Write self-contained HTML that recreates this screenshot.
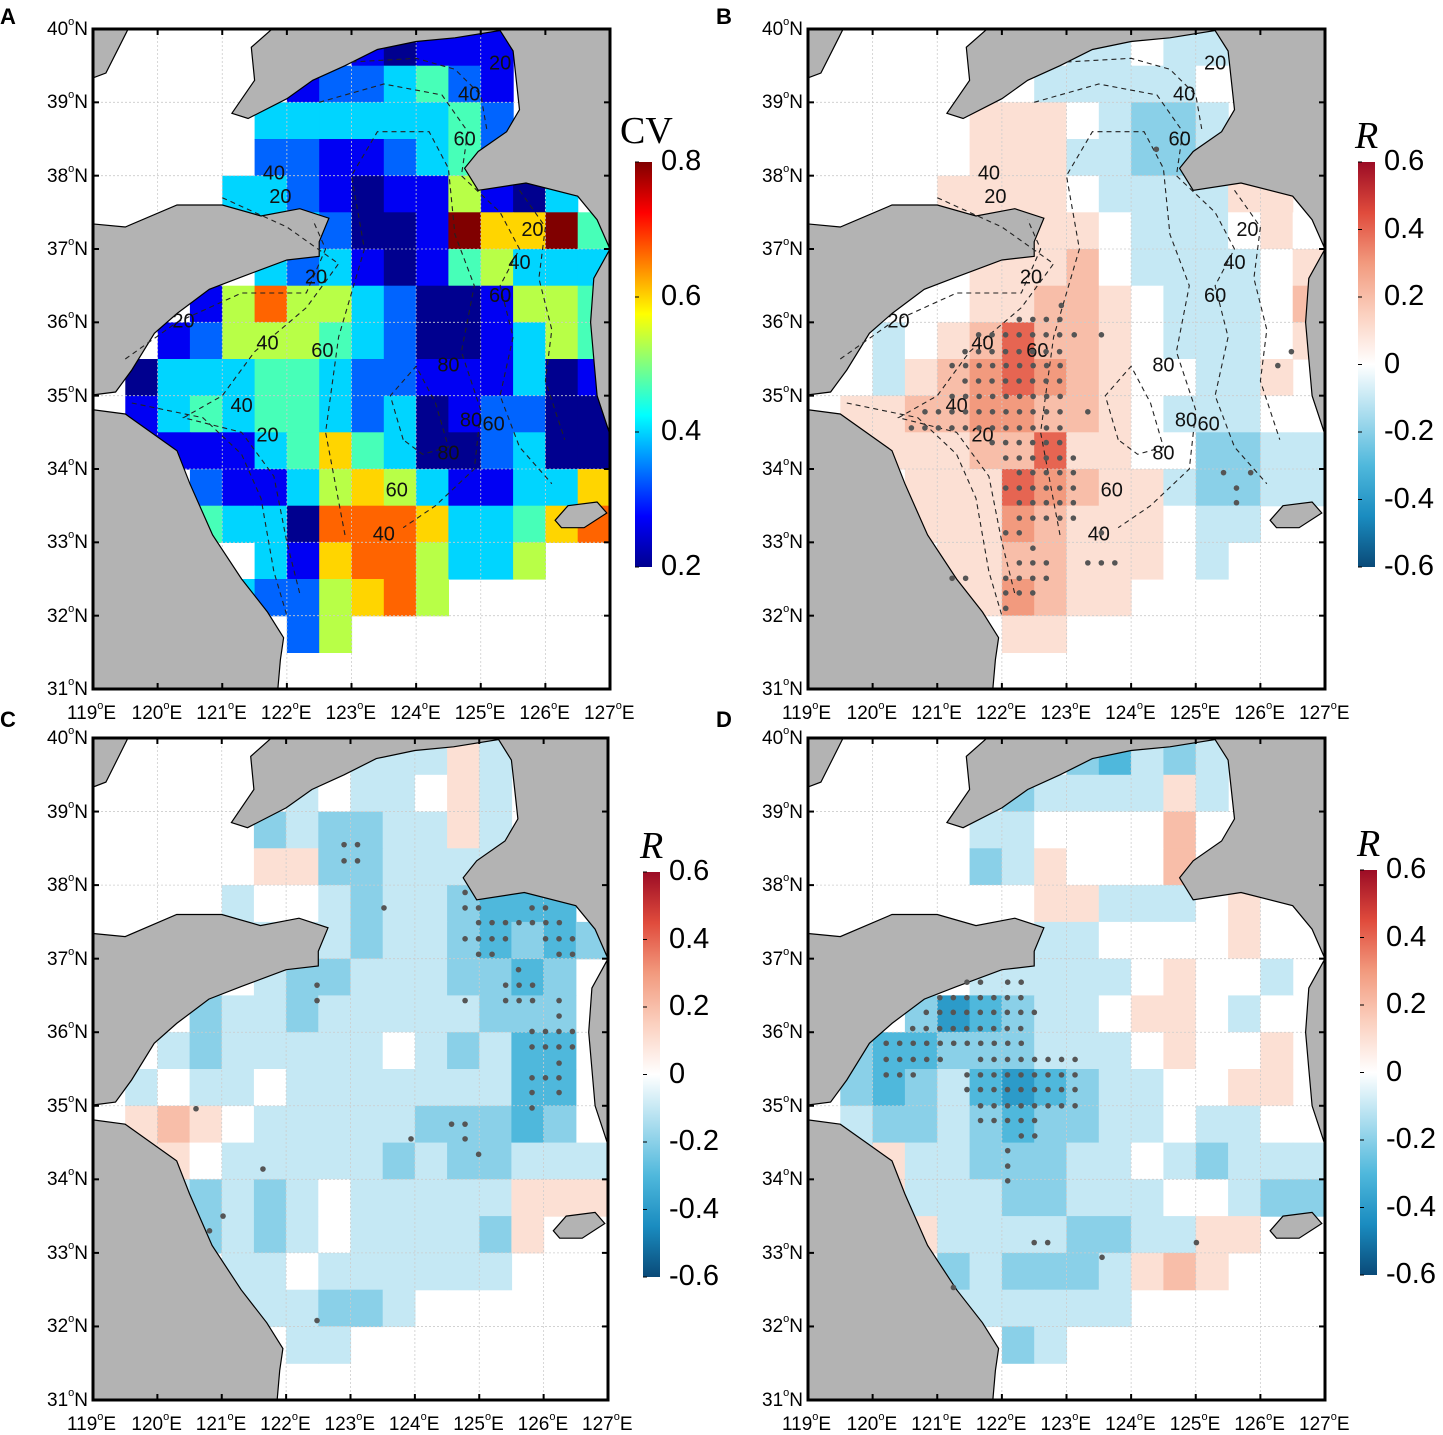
<!DOCTYPE html>
<html><head><meta charset="utf-8">
<style>
body{margin:0;background:#fff;width:1443px;height:1435px;overflow:hidden;position:relative;font-family:"Liberation Sans",Arial,sans-serif;}
.lbl{position:absolute;font-size:19px;color:#000;white-space:nowrap;line-height:1;}
.lbl sup{font-size:11px;vertical-align:top;position:relative;top:-3px;}
.plet{position:absolute;font-weight:bold;font-size:22px;}
.cbl{position:absolute;font-size:29px;line-height:1;}
.cbt{position:absolute;font-family:"Liberation Serif",serif;font-size:38px;line-height:1;}
svg{position:absolute;left:0;top:0;}
</style></head><body>
<svg id="main" width="1443" height="1435"></svg>
<div class="plet" style="left:0;top:4px">A</div>
<div class="plet" style="left:716px;top:4px">B</div>
<div class="plet" style="left:0;top:707px">C</div>
<div class="plet" style="left:716px;top:707px">D</div>
<script>
// ---------- data ----------
const latTicks=[40,39,38,37,36,35,34,33,32,31];
const lonTicks=[119,120,121,122,123,124,125,126,127];
const cvTicks=["0.8","0.6","0.4","0.2"];
const rTicks=["0.6","0.4","0.2","0","-0.2","-0.4","-0.6"];
// CV grid (0.5 deg), digit d -> 0.2 + d*0.6/9
const gridA=[
"........10111...",
"......1223421...",
".....33333342...",
".....22112342...",
"....33210115103.",
"....333200196694",
".....32310145333",
"...1575532001554",
"..12555432001354",
".033344322111301",
".134344323012200",
".111134643002300",
"...2113565311336",
"...4330777633467",
".....316775335..",
"....3225675.....",
"......25........",
"................"];
// R grids, letter a..m -> (idx-6)*0.1
const gridB=[
"........ffgff...",
"......gfffffg...",
".....hhhgfeef...",
".....hhhffeef...",
"....hhhhgffffhh.",
"....ghhhhgfffghg",
".....hhhigffffgh",
"...gghhiihgfffgi",
"..fghikiihgfffgh",
".gfhijkjihggffh.",
".hhiijjiihgfffg.",
".hhhhiikhhggeeff",
"...hhhkjihhfeeff",
"...hhhjihhhgff..",
"....hhiihhhgf...",
"....hhjihh......",
"......hh........",
"................"];
const gridC=[
"........fffhf...",
"......fgffghf...",
".....efeeffhf...",
".....hheeffff...",
"....fggfeffeddd.",
"....ffffeffedede",
".....feefffeede.",
"...effefffffeee.",
"..fefffffgfefdd.",
".fgffgfffffffdd.",
".hihgfffffeeede.",
".hhgfffffefeefff",
"..fefefgfffffhhh",
"...efefgffffeh..",
"....ffgffffff...",
"....fffeef......",
"......ff........",
"................"];
const gridD=[
"........edfef...",
"......effffhf...",
".....ffggggig...",
".....efhgggig...",
"....ggghhfffghg.",
"....gggffgggghgg",
".....fffffghggf.",
"...ecdeffghhgfg.",
".eddeeefffghggh.",
".edefdcdeffgghh.",
".feefedeeffgffg.",
".fhffeeeffgfefff",
"..hfffeefffggfee",
"...hffffeeffhh..",
"....efeeefhih...",
"....ffffff......",
"......ef........",
"................"];
// significant dots: [lat, lonStart, count] (step 0.209 deg)
const dotsB=[[36.23,122.92,1],[36.04,122.27,4],[35.83,121.64,7],[35.83,123.12,1],[35.83,123.54,1],[35.6,121.43,8],[35.41,121.23,9],[35.2,121.43,8],[34.99,121.23,9],[34.78,120.81,11],[34.78,123.33,1],[34.56,120.6,12],[34.36,121.85,6],[34.15,122.06,6],[33.95,122.27,5],[33.74,122.06,6],[33.54,122.27,5],[33.33,122.27,5],[33.13,122.06,2],[33.13,123.54,1],[32.92,122.48,1],[32.72,122.27,3],[32.72,123.33,3],[32.51,121.23,2],[32.51,122.06,4],[32.31,122.06,3],[32.1,122.06,1],[38.36,124.39,1],[35.6,126.48,1],[35.41,126.27,1],[33.95,125.43,1],[33.95,125.85,1],[33.74,125.63,1],[33.54,125.63,1]];
const dotsC=[[38.55,122.9,2],[38.33,122.9,2],[37.69,123.52,1],[37.9,124.78,1],[37.69,124.78,2],[37.69,125.82,2],[37.49,124.99,7],[37.27,124.78,4],[37.27,126.03,3],[37.06,124.99,2],[37.06,126.24,2],[36.85,125.61,1],[36.64,125.41,3],[36.64,122.48,1],[36.43,124.78,1],[36.43,125.41,3],[36.43,126.24,1],[36.43,122.48,1],[36.22,126.24,1],[36.01,125.82,4],[35.8,125.82,4],[35.58,126.24,1],[35.38,125.82,3],[35.18,125.82,1],[35.18,126.24,1],[34.97,125.82,1],[34.96,120.6,1],[34.75,124.57,2],[34.55,124.78,1],[34.55,123.94,1],[34.34,124.99,1],[34.14,121.64,1],[33.5,121.02,1],[33.3,120.81,1],[32.08,122.48,1]];
const dotsD=[[36.68,121.46,2],[36.68,122.09,2],[36.47,121.04,7],[36.27,120.83,9],[36.05,120.62,9],[35.85,120.21,11],[35.63,120.21,5],[35.63,121.67,8],[35.42,120.21,3],[35.42,121.46,9],[35.22,121.46,9],[35.0,121.67,8],[34.8,121.67,5],[34.59,122.3,2],[34.39,122.09,1],[34.18,122.09,1],[33.98,122.09,1],[33.14,122.5,2],[33.14,125.01,1],[32.94,123.55,1],[32.53,121.25,1]];
// isobath contours (lon,lat) and labels
const contours=[
[[123.0,39.55],[124.0,39.6],[124.6,39.45],[125.0,39.1],[125.1,38.6]],
[[122.5,39.0],[123.5,39.25],[124.4,39.1],[124.8,38.6],[124.7,38.0],[125.3,37.5],[125.6,37.0],[125.3,36.5],[125.5,35.8],[125.3,35.0],[125.6,34.3],[126.1,33.8]],
[[122.9,33.1],[122.6,34.5],[122.8,35.8],[123.2,37.0],[123.0,38.0],[123.4,38.6],[124.2,38.6],[124.5,38.1],[124.6,37.2],[124.9,36.5],[124.7,35.6],[125.0,34.8],[124.9,34.0],[124.3,33.5],[123.8,33.2]],
[[123.8,34.4],[123.6,35.0],[124.0,35.4],[124.3,34.9],[124.5,34.3],[124.1,34.2],[123.8,34.4]],
[[119.5,35.5],[120.3,36.0],[121.3,36.4],[122.3,36.4],[122.6,37.0],[122.4,37.4]],
[[121.0,37.7],[122.0,37.3],[122.8,36.8],[122.3,36.2],[121.5,35.6],[121.0,35.0],[120.4,34.7],[121.3,34.5],[121.8,33.9],[122.0,33.0],[122.2,32.3]],
[[119.6,34.9],[120.7,34.7],[121.3,34.2],[121.6,33.6],[121.8,32.6],[122.0,32.0]],
[[125.6,37.8],[126.0,37.3],[125.9,36.6],[126.1,35.9],[126.0,35.2],[126.3,34.4]]];
const cLabels=[["20",125.3,39.52],["40",124.82,39.1],["60",124.75,38.48],["40",121.8,38.02],["20",121.9,37.7],["20",122.45,36.6],["20",120.4,36.0],["40",121.7,35.7],["60",122.55,35.6],["80",124.5,35.4],["60",125.3,36.35],["40",125.6,36.8],["20",125.8,37.25],["40",121.3,34.85],["20",121.7,34.45],["80",124.85,34.65],["60",125.2,34.6],["80",124.5,34.2],["60",123.7,33.7],["40",123.5,33.1]];
// land polygons (lon,lat)
const lands=[
[[121.9,40.1],[121.45,39.75],[121.5,39.3],[121.15,38.85],[121.4,38.78],[122.0,39.05],[122.4,39.3],[122.9,39.5],[123.4,39.72],[124.0,39.83],[124.6,39.88],[125.3,39.98],[125.5,39.7],[125.55,39.3],[125.6,38.9],[125.4,38.6],[124.96,38.33],[124.75,38.1],[124.96,37.8],[125.7,37.9],[126.5,37.72],[126.8,37.4],[127.0,37.0],[126.75,36.6],[126.7,36.0],[126.75,35.5],[126.8,35.0],[126.95,34.6],[127.1,34.2],[127.2,34.2],[127.2,40.1]],
[[118.9,40.1],[119.6,40.1],[119.4,39.75],[119.2,39.4],[118.9,39.3]],
[[118.9,37.35],[119.5,37.3],[120.3,37.6],[121.0,37.6],[121.6,37.45],[122.2,37.55],[122.65,37.42],[122.5,37.1],[122.5,36.9],[122.0,36.85],[121.3,36.62],[120.8,36.45],[120.3,36.12],[119.95,35.85],[119.6,35.35],[119.35,35.05],[118.9,35.0]],
[[118.9,34.82],[119.5,34.75],[120.3,34.25],[120.5,33.8],[120.85,33.1],[121.3,32.5],[121.7,32.05],[121.95,31.7],[121.9,31.4],[121.85,30.9],[118.9,30.9]],
[[126.15,33.3],[126.35,33.5],[126.8,33.55],[126.95,33.4],[126.6,33.2],[126.25,33.2]]];

// ---------- helpers ----------
const NS="http://www.w3.org/2000/svg";
const svg=document.getElementById('main');
function mk(tag,attrs,parent){const e=document.createElementNS(NS,tag);for(const k in attrs)e.setAttribute(k,attrs[k]);(parent||svg).appendChild(e);return e;}
function lerp(a,b,t){return a+(b-a)*t;}
function hex(h){return [parseInt(h.slice(1,3),16),parseInt(h.slice(3,5),16),parseInt(h.slice(5,7),16)];}
function interp(stops,t){t=Math.max(0,Math.min(1,t));const n=stops.length-1;const i=Math.min(n-1,Math.floor(t*n));const f=t*n-i;const a=hex(stops[i]),b=hex(stops[i+1]);return 'rgb('+a.map((v,k)=>Math.round(lerp(v,b[k],f))).join(',')+')';}
const jetStops=["#00008f","#0000ff","#0080ff","#00ffff","#80ff80","#ffff00","#ff8000","#ff0000","#800000"];
const rdStops=["#0a4a78","#1a8cc0","#4fb8dc","#a8dcee","#ffffff","#fbd0bf","#f29a7e","#e04b3c","#9b0c25"];
function cvColor(d){return interp(jetStops,d/9);}
function rColor(ch){const v=(ch.charCodeAt(0)-103)*0.1;return interp(rdStops,(v+0.6)/1.2);}

function panel(P){
  const g=mk('g',{});
  
  
  const sx=P.W/8, sy=P.H/9;
  const X=lon=>P.x0+(lon-119)*sx, Y=lat=>P.y0+(40-lat)*sy;
  const clipId='clip'+P.name;
  const cp=mk('clipPath',{id:clipId},g);mk('rect',{x:P.x0,y:P.y0,width:P.W,height:P.H},cp);
  const inner=mk('g',{'clip-path':'url(#'+clipId+')'},g);
  mk('rect',{x:P.x0,y:P.y0,width:P.W,height:P.H,fill:'#fff'},inner);
  P.grid.forEach((row,r)=>{for(let c=0;c<16;c++){const ch=row[c];if(ch==='.')continue;
    const lon=119+c*0.5, lat=40-r*0.5;
    const col=P.cv?cvColor(+ch):rColor(ch);
    const rc=mk('rect',{x:X(lon).toFixed(1),y:Y(lat).toFixed(1),width:(sx*0.5+0.6).toFixed(1),height:(sy*0.5+0.6).toFixed(1),fill:col},inner);
    
    }});
  lonTicks.forEach(l=>mk('line',{x1:X(l),x2:X(l),y1:P.y0,y2:P.y0+P.H,stroke:'#ccc','stroke-width':0.8,'stroke-dasharray':'2,2'},inner));
  latTicks.forEach(l=>mk('line',{x1:P.x0,x2:P.x0+P.W,y1:Y(l),y2:Y(l),stroke:'#ccc','stroke-width':0.8,'stroke-dasharray':'2,2'},inner));
  lands.forEach(poly=>{const p=mk('polygon',{points:poly.map(q=>X(q[0]).toFixed(1)+','+Y(q[1]).toFixed(1)).join(' '),fill:'#b3b3b3',stroke:'#000','stroke-width':1.2},inner);
    
    });
  if(P.contours){contours.forEach(cn=>{const p=mk('polyline',{points:cn.map(q=>X(q[0]).toFixed(1)+','+Y(q[1]).toFixed(1)).join(' '),fill:'none',stroke:'#222','stroke-width':1.1,'stroke-dasharray':'5,4'},inner);
      
      });
    cLabels.forEach(cl=>{const t=mk('text',{x:X(cl[1]),y:Y(cl[2]),'font-size':20,'font-family':'Liberation Sans, sans-serif','text-anchor':'middle','dominant-baseline':'middle',fill:'#111'},inner);t.textContent=cl[0];
      
      });}
  if(P.dots){P.dots.forEach(dr=>{for(let k=0;k<dr[2];k++){const d=mk('circle',{cx:X(dr[1]+k*0.209),cy:Y(dr[0]),r:2.8,fill:'#555'},inner);
    
    }});}
  mk('rect',{x:P.x0,y:P.y0,width:P.W,height:P.H,fill:'none',stroke:'#000','stroke-width':3},g);
  lonTicks.forEach(l=>{mk('line',{x1:X(l),x2:X(l),y1:P.y0+P.H,y2:P.y0+P.H-6,stroke:'#000','stroke-width':2},g);mk('line',{x1:X(l),x2:X(l),y1:P.y0,y2:P.y0+6,stroke:'#000','stroke-width':2},g);});
  latTicks.forEach(l=>{mk('line',{x1:P.x0,x2:P.x0+6,y1:Y(l),y2:Y(l),stroke:'#000','stroke-width':2},g);mk('line',{x1:P.x0+P.W,x2:P.x0+P.W-6,y1:Y(l),y2:Y(l),stroke:'#000','stroke-width':2},g);});
  latTicks.forEach(l=>{const d=document.createElement('div');d.className='lbl';d.innerHTML=l+'<sup>o</sup>N';
    
    
    d.style.right=(1443-P.x0+5)+'px';d.style.top=(Y(l)-9)+'px';document.body.appendChild(d);});
  lonTicks.forEach(l=>{const d=document.createElement('div');d.className='lbl';d.innerHTML=l+'<sup>o</sup>E';
    
    
    d.style.left=(X(l)-26)+'px';d.style.top=(P.y0+P.H+15)+'px';document.body.appendChild(d);});
  const gid='grad'+P.name;const lg=mk('linearGradient',{id:gid,x1:0,y1:1,x2:0,y2:0},g);
  const st=P.cv?jetStops:rdStops;st.forEach((s,i)=>mk('stop',{offset:i/(st.length-1),'stop-color':s},lg));
  const cb=mk('rect',{x:P.cbx,y:P.cby,width:17,height:405,fill:'url(#'+gid+')'},g);
  
  
  const ticks=P.cv?cvTicks:rTicks;
  ticks.forEach((t,i)=>{const yy=P.cby+i*405/(ticks.length-1);
    mk('line',{x1:P.cbx,x2:P.cbx+4,y1:yy,y2:yy,stroke:'#000'},g);
    const d=document.createElement('div');d.className='cbl';d.textContent=t;
    
    
    d.style.left=(P.cbx+26)+'px';d.style.top=(yy-15)+'px';document.body.appendChild(d);});
  const tt=document.createElement('div');tt.className='cbt';
  
  
  if(P.cv){tt.textContent='CV';tt.style.left=(P.cbx-15)+'px';tt.style.top=(P.cby-50)+'px';}
  else{tt.innerHTML='<i>R</i>';tt.style.left=(P.cbx-3)+'px';tt.style.top=(P.cby-45)+'px';}
  document.body.appendChild(tt);
}
panel({name:'panel-a-cv',x0:93,y0:29,W:517,H:660,grid:gridA,cv:true,contours:true,cbx:635,cby:162});
panel({name:'panel-b-r',x0:808,y0:29,W:517,H:660,grid:gridB,contours:true,dots:dotsB,cbx:1358,cby:162});
panel({name:'panel-c-r',x0:93,y0:738,W:515,H:662,grid:gridC,dots:dotsC,cbx:643,cby:872});
panel({name:'panel-d-r',x0:808,y0:738,W:517,H:662,grid:gridD,dots:dotsD,cbx:1360,cby:870});
</script>
</body></html>
